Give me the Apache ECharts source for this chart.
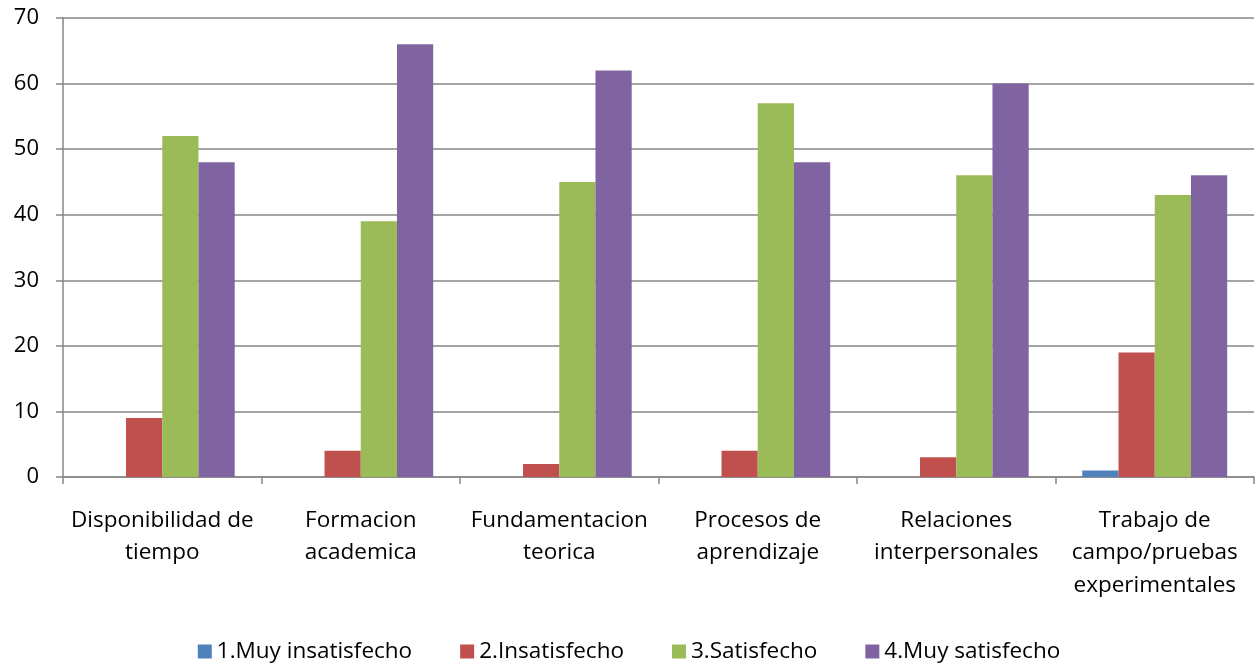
<!DOCTYPE html>
<html>
<head>
<meta charset="utf-8">
<script src="https://cdn.jsdelivr.net/npm/echarts@6/dist/echarts.min.js"></script>
<style>
  html, body { margin: 0; padding: 0; background: #fff; }
  #main { width: 1258px; height: 669px; }
</style>
</head>
<body>
<div id="main"></div>
<script>
var categories = ['Disponibilidad de\ntiempo', 'Formacion\nacademica', 'Fundamentacion\nteorica',
                  'Procesos de\naprendizaje', 'Relaciones\ninterpersonales', 'Trabajo de\ncampo/pruebas\nexperimentales'];
var seriesNames = ['1.Muy insatisfecho', '2.Insatisfecho', '3.Satisfecho', '4.Muy satisfecho'];
var muyInsatisfecho = [0, 0, 0, 0, 0, 1];
var insatisfecho = [9, 4, 2, 4, 3, 19];
var satisfecho = [52, 39, 45, 57, 46, 43];
var muySatisfecho = [48, 66, 62, 48, 60, 46];
var colors = ['#4f81bd', '#c0504d', '#9bbb59', '#8064a2'];

var font = '"Open Sans", sans-serif';
var grey = '#868686';

var chart = echarts.init(document.getElementById('main'));
var allData = [muyInsatisfecho, insatisfecho, satisfecho, muySatisfecho];
var series = [];
for (var i = 0; i < allData.length; i++) {
    series.push({
        name: seriesNames[i],
        type: 'bar',
        data: allData[i],
        barGap: 0,
        barCategoryGap: '27%',
        itemStyle: { color: colors[i] }
    });
}

chart.setOption({
    animation: false,
    color: colors,
    grid: { left: 63, right: 4, top: 18, bottom: 192 },
    legend: {
        bottom: 1,
        left: 'center',
        itemWidth: 14,
        itemHeight: 14,
        itemGap: 48,
        icon: 'rect',
        textStyle: { fontFamily: font, fontSize: 22.5, color: '#000' },
        data: seriesNames
    },
    xAxis: {
        type: 'category',
        data: categories,
        axisLine: { lineStyle: { color: grey, width: 1.5 } },
        axisTick: { show: true, length: 7, lineStyle: { color: grey, width: 1.5 } },
        axisLabel: { fontFamily: font, fontSize: 22.5, color: '#000', lineHeight: 32.5, margin: 27, interval: 0 }
    },
    yAxis: {
        type: 'value',
        min: 0,
        max: 70,
        interval: 10,
        axisLine: { show: true, lineStyle: { color: grey, width: 1.5 } },
        axisTick: { show: true, length: 7, lineStyle: { color: grey, width: 1.5 } },
        splitLine: { lineStyle: { color: grey, width: 1.5 } },
        axisLabel: { fontFamily: font, fontSize: 22, color: '#000', margin: 24 }
    },
    series: series
});
</script>
</body>
</html>
